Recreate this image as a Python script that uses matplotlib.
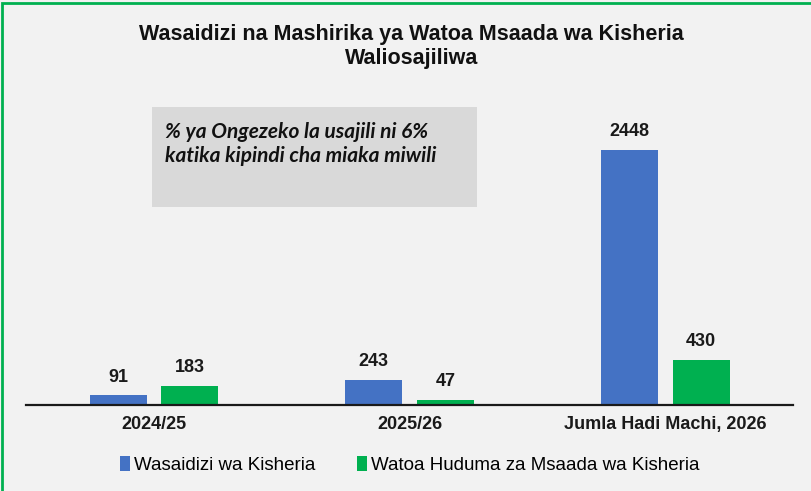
import matplotlib
matplotlib.use("Agg")
import matplotlib.pyplot as plt
from matplotlib import font_manager
from matplotlib.patches import Rectangle
import numpy as np

categories = ["2024/25", "2025/26", "Jumla Hadi Machi, 2026"]
series_names = ["Wasaidizi wa Kisheria", "Watoa Huduma za Msaada wa Kisheria"]
wasaidizi = [91, 243, 2448]
watoa = [183, 47, 430]
title = "Wasaidizi na Mashirika ya Watoa Msaada wa Kisheria\nWaliosajiliwa"
note = "% ya Ongezeko la usajili ni 6%\nkatika kipindi cha miaka miwili"

names = {f.name for f in font_manager.fontManager.ttflist}
narrow = "Liberation Sans Narrow" if "Liberation Sans Narrow" in names else "Liberation Sans"
italic_font = "Lato" if "Lato" in names else "DejaVu Sans"

BLUE = "#4472C4"
GREEN = "#00B050"
BG = "#F2F2F2"

fig = plt.figure(figsize=(8.11, 4.91), dpi=100, facecolor=BG)
ax = fig.add_axes([0.032, 0.1752, 0.946, 0.594])
ax.set_facecolor(BG)

x = np.arange(len(categories))
w = 0.223
off = 0.14
b1 = ax.bar(x - off, wasaidizi, w, color=BLUE, label=series_names[0])
b2 = ax.bar(x + off, watoa, w, color=GREEN, label=series_names[1])

for bars in (b1, b2):
    for r in bars:
        ax.annotate(f"{int(r.get_height())}", (r.get_x() + r.get_width() / 2, r.get_height()),
                    xytext=(0, 7), textcoords="offset points", ha="center", va="bottom",
                    fontsize=13, fontweight="bold", family=narrow, color="#1a1a1a")

ax.set_xlim(-0.5, 2.5)
ax.set_ylim(0, 2800)
ax.set_yticks([])
for s in ["top", "right", "left"]:
    ax.spines[s].set_visible(False)
ax.spines["bottom"].set_linewidth(1.6)
ax.spines["bottom"].set_color("#1a1a1a")
ax.set_xticks(x)
ax.set_xticklabels(categories, fontsize=13, fontweight="bold", family=narrow, color="#1a1a1a")
ax.tick_params(axis="x", length=0, pad=8)

fig.text(0.507, 0.906, title, ha="center", va="center", fontsize=15.5, fontweight="bold",
         family=narrow, color="#111111", linespacing=1.2)

# note box
fig.patches.append(Rectangle((152 / 811, 1 - 207 / 491), 325 / 811, 100 / 491,
                             transform=fig.transFigure, facecolor="#D9D9D9", edgecolor="none", zorder=0))
fig.text(165 / 811, 1 - 144 / 491, note, ha="left", va="center", fontsize=15,
         fontweight="bold", style="italic", family=italic_font, color="#111111", linespacing=1.25)

leg = fig.legend(handles=[b1, b2], labels=series_names, loc="center", bbox_to_anchor=(0.505, 1 - 465 / 491),
                 ncol=2, frameon=False, handlelength=0.55, handleheight=0.9, handletextpad=0.2,
                 columnspacing=2.2, prop={"family": narrow, "size": 13.5})

# green border (left/top visible)
fig.patches.append(Rectangle((2 / 811, -0.1), 1.2, 1.1 - 2.5 / 491, transform=fig.transFigure,
                             facecolor="none", edgecolor=GREEN, linewidth=2, zorder=10))

fig.savefig("out.png", dpi=100, facecolor=BG)
